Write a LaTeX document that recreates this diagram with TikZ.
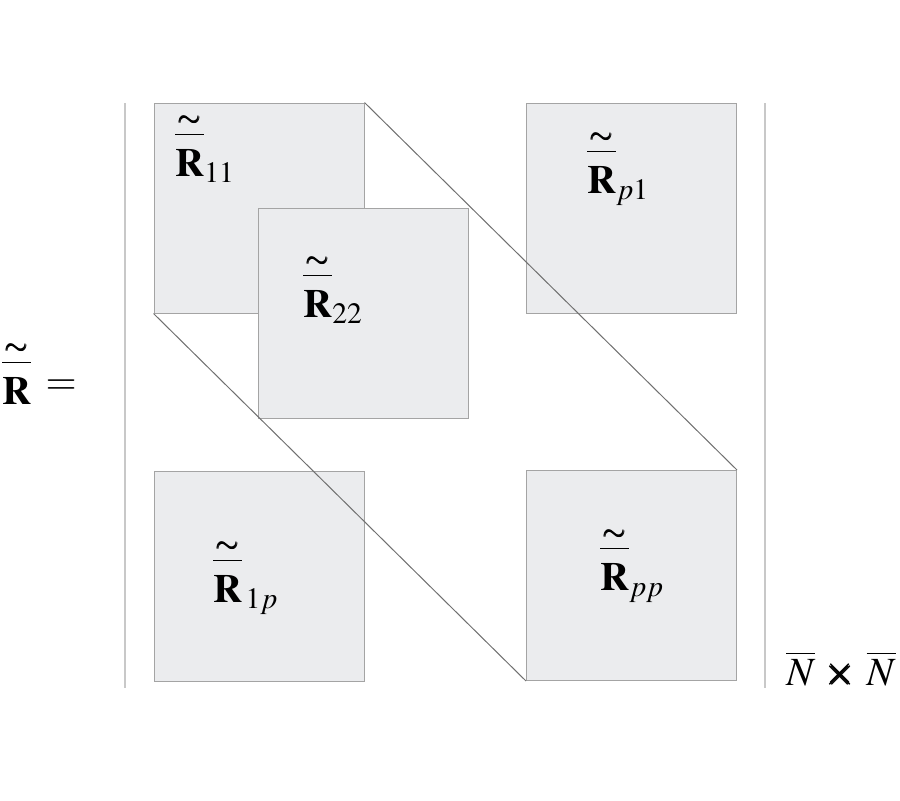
\documentclass[tikz,border=0pt]{standalone}
\usepackage{amsmath,amsbsy}
\usepackage{mathptmx}
\usetikzlibrary{positioning}
\definecolor{blockfill}{HTML}{EBECEE}
\definecolor{blockline}{HTML}{A4A4A4}
\definecolor{sideline}{HTML}{C8C8C8}
\definecolor{diagline}{HTML}{707070}
\newcommand{\Rtb}[1]{\overset{\raisebox{-4pt}{$\scriptstyle\pmb{\sim}$}}{\overline{\rule{0pt}{0.9em}\mathbf{R}}}_{#1}}

\begin{document}
\begin{tikzpicture}[x=0.5pt,y=-0.5pt,
    block/.style={draw=blockline,fill=blockfill,line width=0.5pt,minimum size=105pt,inner sep=0pt},
    lbl/.style={inner sep=0pt,anchor=base west,font=\fontsize{20}{24}\selectfont}]
    \useasboundingbox (0,0) rectangle (900,800);

    % side bars of the matrix
    \coordinate (lt) at (125,103);
    \coordinate (lb) at (125,688);
    \coordinate (rt) at (765,103);
    \coordinate (rb) at (765,688);
    \draw[sideline,line width=0.6pt] (lt) -- (lb);
    \draw[sideline,line width=0.6pt] (rt) -- (rb);

    % blocks
    \node[block] (r11) at (259,208) {};
    \node[block] (r22) at (363.5,313) {};
    \node[block] (rp1) at (631.5,208) {};
    \node[block] (r1p) at (259,576) {};
    \node[block] (rpp) at (631.5,575.5) {};

    % diagonal
    \draw[diagline,line width=0.5pt] (r11.north east) -- (rpp.north east);
    \draw[diagline,line width=0.5pt] (r11.south west) -- (rpp.south west);

    % labels
    \node[lbl] (l11) at (175,176) {$\Rtb{11}$};
    \node[lbl] (l22) at (303,317) {$\Rtb{22}$};
    \node[lbl] (lp1) at (587,193) {$\Rtb{p1}$};
    \node[lbl] (l1p) at (213,602) {$\Rtb{\,1p}$};
    \node[lbl] (lpp) at (600,590) {$\Rtb{pp}$};
    \node[lbl] (lhs) at (2,404) {$\Rtb{}\,\mathrel{\raisebox{5pt}{$=$}}$};
    \node[lbl] (dim) at (786,685) {$\overline{N}\,\pmb{\times}\,\overline{N}$};
\end{tikzpicture}
\end{document}
